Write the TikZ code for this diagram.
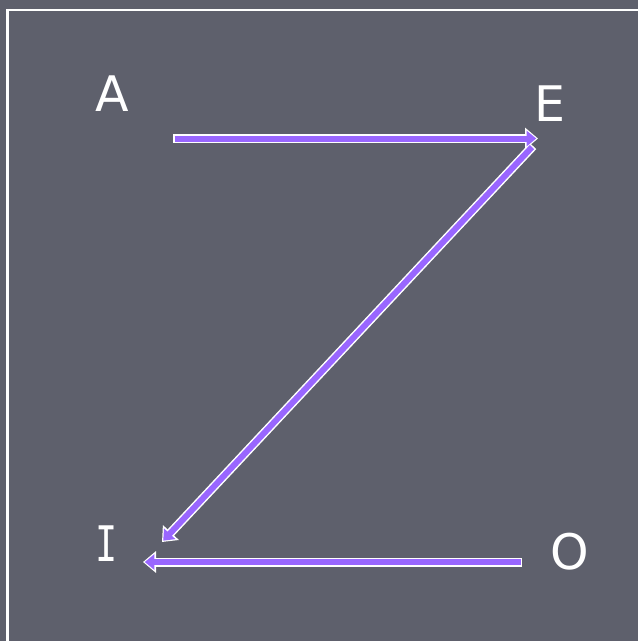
\documentclass[tikz,border=0pt]{standalone}
\usepackage{fontspec}
\usepackage{graphicx}
\setmainfont{DejaVu Sans}
\newfontfamily\monofam{DejaVu Sans Mono}
\usetikzlibrary{arrows.meta}
\definecolor{bgc}{HTML}{5E606C}
\definecolor{arrc}{HTML}{9966FF}
\tikzset{
  letter/.style={text=white, inner sep=0pt, font=\fontsize{49}{58}\selectfont},
  outerarrow/.style={draw=white, line width=9pt, -{Triangle[length=13pt,width=21pt]}},
  innerarrow/.style={draw=arrc, line width=6pt, -{Triangle[length=9.5pt,width=15pt]}, shorten <=1.5pt, shorten >=1.8pt},
  framel/.style={draw=white, line width=2.4pt}
}
\begin{document}
\begin{tikzpicture}[x=1pt,y=-1pt]
\useasboundingbox[fill=bgc] (0,0) rectangle (638,641);
\draw[framel] (7.3,645) -- (7.3,10) -- (645,10);
\node[letter] (A) at (112.5,93.5) {A};
\node[letter] (E) at (549.5,104) {E};
\node[letter] (I) at (107,543.5) {\monofam\scalebox{0.75}[1]{I}};
\node[letter] (O) at (569.5,552) {O};
\coordinate (a1) at (173,138.5);
\coordinate (a2) at (538,138.5);
\coordinate (d1) at (533,146);
\coordinate (d2) at (162,542);
\coordinate (o1) at (522,562);
\coordinate (o2) at (143,562);
\draw[outerarrow] (a1) -- (a2);
\draw[outerarrow] (d1) -- (d2);
\draw[outerarrow] (o1) -- (o2);
\draw[innerarrow] (a1) -- (a2);
\draw[innerarrow] (d1) -- (d2);
\draw[innerarrow] (o1) -- (o2);
\end{tikzpicture}
\end{document}
